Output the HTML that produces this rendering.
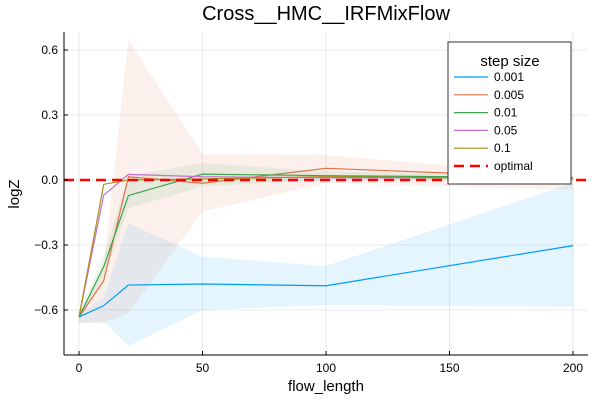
<!DOCTYPE html>
<html><head><meta charset="utf-8"><style>
body{margin:0;background:#fff;}
svg text{font-family:"Liberation Sans","DejaVu Sans",sans-serif;fill:#000;}
</style></head><body>
<svg id="chart" width="600" height="400" xmlns="http://www.w3.org/2000/svg">
<rect width="600" height="400" fill="#fff"/>
<text x="326" y="20" font-size="20" text-anchor="middle">Cross__HMC__IRFMixFlow</text>
<g id="grid"></g>
<g id="bands"></g>
<g id="lines"></g>
<line x1="64" y1="355" x2="588" y2="355" stroke="#000" stroke-width="1"/>
<line x1="64" y1="32" x2="64" y2="355" stroke="#000" stroke-width="1"/>
<g id="ticks"></g>
<text x="326" y="391" font-size="15" text-anchor="middle">flow_length</text>
<text x="19" y="194" font-size="15" text-anchor="middle" transform="rotate(-90 19 194)">logZ</text>
<g id="legend">
<rect x="448" y="42" width="123" height="142" fill="#fff" stroke="#333" stroke-width="1"/>
<text x="510" y="66" font-size="15" text-anchor="middle">step size</text>
</g>
</svg>
<script>
const xs = [0, 10, 20, 50, 100, 200];
const seriesNames = ["0.001", "0.005", "0.01", "0.05", "0.1"];
const colors = ["#009AFA", "#E36F47", "#3EA44E", "#C371D2", "#AC8E18"];
const s001 = [-0.632, -0.58, -0.485, -0.48, -0.488, -0.303];
const s005 = [-0.632, -0.465, 0.015, -0.015, 0.054, 0.01];
const s01 = [-0.632, -0.40, -0.072, 0.027, 0.02, 0.01];
const s05 = [-0.632, -0.07, 0.026, 0.015, 0.01, 0.01];
const s1 = [-0.632, -0.02, 0.0, 0.005, 0.015, 0.005];
const lo001 = [-0.66, -0.654, -0.766, -0.60, -0.577, -0.585];
const hi001 = [-0.62, -0.54, -0.20, -0.354, -0.397, -0.014];
const lo005 = [-0.66, -0.66, -0.615, -0.146, -0.014, -0.045];
const hi005 = [-0.62, -0.40, 0.646, 0.12, 0.115, 0.02];
const lo01 = [-0.65, -0.45, -0.13, -0.03, 0.0, 0.0];
const hi01 = [-0.62, -0.35, 0.02, 0.078, 0.04, 0.02];
const xTicks = [0, 50, 100, 150, 200];
const yTicks = [-0.6, -0.3, 0.0, 0.3, 0.6];
const yTickLabels = ["\u22120.6", "\u22120.3", "0.0", "0.3", "0.6"];
const optimal = 0;

const NS = "http://www.w3.org/2000/svg";
function sx(v){ return 79 + v * 2.47; }
function sy(v){ return 180 - v * (65 / 0.3); }
function mk(tag, attrs, parent){ const e = document.createElementNS(NS, tag); for (const k in attrs) e.setAttribute(k, attrs[k]); parent.appendChild(e); return e; }

const grid = document.getElementById('grid'), ticks = document.getElementById('ticks');
xTicks.forEach(v => {
  const g = mk('line', {x1: sx(v), x2: sx(v), y1: 32, y2: 355, stroke: '#000', 'stroke-opacity': 0.08}, grid);
  
  
  mk('line', {x1: sx(v), x2: sx(v), y1: 355, y2: 351, stroke: '#000'}, ticks);
  const t = mk('text', {x: sx(v), y: 372, 'font-size': 12, 'text-anchor': 'middle'}, ticks);
  t.textContent = v;
  
  
});
yTicks.forEach((v, i) => {
  const g = mk('line', {x1: 64, x2: 588, y1: sy(v), y2: sy(v), stroke: '#000', 'stroke-opacity': 0.08}, grid);
  
  
  mk('line', {x1: 64, x2: 68, y1: sy(v), y2: sy(v), stroke: '#000'}, ticks);
  const t = mk('text', {x: 58, y: sy(v) + 4, 'font-size': 12, 'text-anchor': 'end'}, ticks);
  t.textContent = yTickLabels[i];
  
  
});

const bands = document.getElementById('bands');
[[lo001, hi001, 0], [lo005, hi005, 1], [lo01, hi01, 2]].forEach(([lo, hi, c]) => {
  let pts = xs.map((x, i) => sx(x) + ',' + sy(hi[i]));
  pts = pts.concat(xs.map((x, i) => sx(x) + ',' + sy(lo[i])).reverse());
  const p = mk('polygon', {points: pts.join(' '), fill: colors[c], 'fill-opacity': 0.1}, bands);
  
  
});

const lines = document.getElementById('lines');
[s001, s005, s01, s05, s1].forEach((s, c) => {
  const p = mk('polyline', {points: xs.map((x, i) => sx(x) + ',' + sy(s[i])).join(' '), fill: 'none', stroke: colors[c], 'stroke-width': 1.2}, lines);
  
  
});
const opt = mk('line', {x1: 64, x2: 588, y1: sy(optimal), y2: sy(optimal), stroke: '#FF0000', 'stroke-width': 2.5, 'stroke-dasharray': '10 6'}, lines);



const leg = document.getElementById('legend');
seriesNames.concat(['optimal']).forEach((n, i) => {
  const y = 77 + i * 17.8;
  const isOpt = n === 'optimal';
  const g = mk('g', {}, leg);
  
  
  mk('line', {x1: 454, x2: 488, y1: y, y2: y, stroke: isOpt ? '#FF0000' : colors[i], 'stroke-width': isOpt ? 2.5 : 1.2, 'stroke-dasharray': isOpt ? '10 6' : 'none'}, g);
  const t = mk('text', {x: 494, y: y + 4, 'font-size': 12}, g);
  t.textContent = n;
});
</script>
</body></html>
